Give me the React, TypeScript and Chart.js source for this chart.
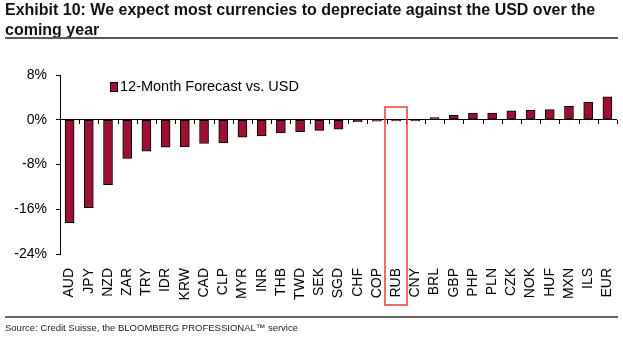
import { useEffect, useRef } from 'react';
import { Chart, registerables } from 'chart.js';

Chart.register(...registerables);

const categories = ['AUD', 'JPY', 'NZD', 'ZAR', 'TRY', 'IDR', 'KRW', 'CAD', 'CLP', 'MYR', 'INR', 'THB', 'TWD', 'SEK', 'SGD', 'CHF', 'COP', 'RUB', 'CNY', 'BRL', 'GBP', 'PHP', 'PLN', 'CZK', 'NOK', 'HUF', 'MXN', 'ILS', 'EUR'];
const forecastValues = [-18.4, -15.7, -11.6, -6.9, -5.6, -4.9, -4.85, -4.25, -4.1, -3.1, -2.9, -2.35, -2.15, -1.9, -1.7, -0.4, -0.25, -0.2, -0.2, 0.4, 0.8, 1.2, 1.2, 1.6, 1.7, 1.8, 2.4, 3.1, 4.1];
const seriesName = '12-Month Forecast vs. USD';
const yTicks = [-24, -16, -8, 0, 8];
const highlighted = 'RUB';
const titleLine1 = 'Exhibit 10: We expect most currencies to depreciate against the USD over the';
const titleLine2 = 'coming year';
const sourceText = 'Source: Credit Suisse, the BLOOMBERG PROFESSIONAL\u2122 service';

const FONT = '"Liberation Sans", Arial, Helvetica, sans-serif';
const BAR = '#9C1131';
const HIGHLIGHT = 'rgb(240, 60, 60)';

const overlayPlugin = {
  id: 'overlay',
  afterDatasetsDraw(chart: any) {
    const { ctx, chartArea, scales } = chart;
    const x = scales.x;
    const y = scales.y;
    const y0 = Math.round(y.getPixelForValue(0));
    ctx.save();
    ctx.strokeStyle = '#000';
    ctx.lineWidth = 1;
    const n = categories.length;
    const step = (chartArea.right - chartArea.left) / n;
    ctx.beginPath();
    for (let i = 1; i <= n; i++) {
      const px = Math.round(chartArea.left + step * i) + 0.5;
      ctx.moveTo(px, y0);
      ctx.lineTo(px, y0 + 4);
    }
    ctx.stroke();
    ctx.restore();

    // legend
    ctx.save();
    const lx = chartArea.left + 50;
    const ly = chartArea.top + 7;
    ctx.fillStyle = BAR;
    ctx.fillRect(lx, ly, 7, 9);
    ctx.lineWidth = 1;
    ctx.strokeStyle = '#000';
    ctx.strokeRect(lx + 0.5, ly + 0.5, 7, 9);
    ctx.fillStyle = '#000';
    ctx.font = '14.5px ' + FONT;
    ctx.textBaseline = 'middle';
    ctx.textAlign = 'left';
    ctx.fillText(seriesName, lx + 10, ly + 5);
    ctx.restore();
  },
  afterDraw(chart: any) {
    // highlight box around the highlighted category, drawn last
    const { ctx, chartArea, scales } = chart;
    const idx = categories.indexOf(highlighted);
    const cx = scales.x.getPixelForValue(idx);
    const top = scales.y.getPixelForValue(2.25);
    ctx.save();
    ctx.globalAlpha = 1;
    ctx.setLineDash([]);
    ctx.lineWidth = 1.5;
    ctx.strokeStyle = HIGHLIGHT;
    ctx.beginPath();
    ctx.rect(Math.round(cx - 11), Math.round(top), 22, Math.round(chartArea.bottom + 51 - top));
    ctx.stroke();
    ctx.restore();
  },
};

export default function App() {
  const ref = useRef<HTMLCanvasElement>(null);
  useEffect(() => {
    document.body.style.margin = '0';
    const chart = new Chart(ref.current!, {
      type: 'bar',
      data: {
        labels: categories,
        datasets: [
          {
            label: seriesName,
            data: forecastValues,
            backgroundColor: BAR,
            borderColor: '#000',
            borderWidth: 1,
            borderSkipped: false,
            barThickness: 9,
          },
        ],
      },
      options: {
        responsive: false,
        animation: false,
        events: [],
        layout: { padding: { top: 75, right: 6, left: 0, bottom: 0 } },
        plugins: { legend: { display: false }, tooltip: { enabled: false }, title: { display: false } },
        scales: {
          x: {
            offset: true,
            grid: { display: false, drawTicks: false },
            border: { display: false },
            ticks: {
              color: '#000',
              font: { family: FONT, size: 14 },
              minRotation: 90,
              maxRotation: 90,
              padding: 14,
              autoSkip: false,
            },
            afterFit(scale: any) {
              scale.height = 86;
              scale.paddingLeft = 0;
              scale.paddingRight = 0;
            },
          },
          y: {
            min: -24,
            max: 8,
            afterBuildTicks(scale: any) {
              scale.ticks = yTicks.map((v) => ({ value: v }));
            },
            grid: {
              drawOnChartArea: true,
              color: (c: any) => (c.tick && c.tick.value === 0 ? '#000' : 'rgba(0,0,0,0)'),
              tickColor: '#000',
              tickLength: 4,
              lineWidth: 1,
            },
            border: { display: true, color: '#000', width: 1 },
            ticks: {
              color: '#000',
              font: { family: FONT, size: 14 },
              padding: 9,
              callback: (v: any) => v + '%',
            },
            afterFit(scale: any) {
              scale.width = 60;
            },
          },
        },
      },
      plugins: [overlayPlugin],
    });
    return () => chart.destroy();
  }, []);

  return (
    <div style={{ position: 'relative', width: 623, height: 340, background: '#fff', fontFamily: FONT, overflow: 'hidden' }}>
      <canvas ref={ref} width={623} height={340} style={{ position: 'absolute', left: 0, top: 0 }} />
      <div style={{ position: 'absolute', left: 5, top: 0, width: 615, fontWeight: 'bold', fontSize: 16, lineHeight: '20px', color: '#111', whiteSpace: 'nowrap' }}>
        {titleLine1}
        <br />
        {titleLine2}
      </div>
      <div style={{ position: 'absolute', left: 5, top: 37, width: 613, height: 2, background: '#5a5a5a' }} />
      <div style={{ position: 'absolute', left: 5, top: 316, width: 613, height: 2, background: '#666' }} />
      <div style={{ position: 'absolute', left: 5, top: 321, fontSize: 9.5, lineHeight: '14px', color: '#222' }}>{sourceText}</div>
    </div>
  );
}
